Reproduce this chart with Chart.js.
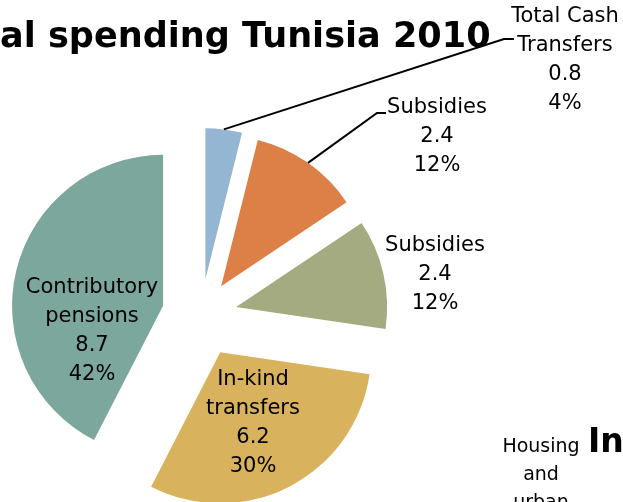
<!DOCTYPE html>
<html>
<head>
<meta charset="utf-8">
<title>Social spending Tunisia 2010</title>
<script src="https://cdn.jsdelivr.net/npm/chart.js@4"></script>
<style>
  html, body { margin: 0; padding: 0; background: #fff; overflow: hidden; }
  canvas { display: block; }
</style>
</head>
<body>
<canvas id="spendingChart" width="623" height="502"></canvas>
<script>
// Social spending by programme, Tunisia 2010
const categories = [
    ['Total Cash', 'Transfers'],
    ['Subsidies'],
    ['Subsidies'],
    ['In-kind', 'transfers'],
    ['Contributory', 'pensions']
];
const spending = [0.8, 2.4, 2.4, 6.2, 8.7];
const sliceColors = ['#94B6D2', '#DD8047', '#A5AB81', '#D8B25C', '#7BA79D'];

// how far each slice is pulled out of the pie (px)
const explode = [36, 35, 36, 42, 39];

// label blocks: centre of first line, optional leader elbow
const labelLayout = [
    { x: 565, y: 17, leader: [[504, 39], [514, 39]] },
    { x: 437, y: 108, leader: [[377, 113], [386, 113]] },
    { x: 435, y: 246 },
    { x: 253, y: 380 },
    { x: 92, y: 288 }
];

const LINE_H = 29;
const LABEL_FONT = '21px "DejaVu Sans", sans-serif';
const TITLE = 'Social spending Tunisia 2010';
const TITLE_FONT = '"DejaVu Sans", sans-serif';

const total = spending.reduce((a, b) => a + b, 0);

// push slices outwards along their mid angle
const explodePlugin = {
    id: 'explode',
    afterDatasetsUpdate(chart) {
        chart.getDatasetMeta(0).data.forEach((arc, i) => {
            const mid = (arc.startAngle + arc.endAngle) / 2;
            arc.x += Math.cos(mid) * explode[i];
            arc.y += Math.sin(mid) * explode[i];
        });
    }
};

const textPlugin = {
    id: 'texts',
    afterDraw(chart) {
        const ctx = chart.ctx;
        const arcs = chart.getDatasetMeta(0).data;
        ctx.save();

        // title, the start of it runs off the left edge
        const visible = TITLE.slice(4);
        ctx.font = `bold 36px ${TITLE_FONT}`;
        const size = 36 * 491 / ctx.measureText(visible).width;
        ctx.font = `bold ${size.toFixed(1)}px ${TITLE_FONT}`;
        ctx.fillStyle = '#000';
        ctx.textAlign = 'left';
        ctx.textBaseline = 'alphabetic';
        ctx.fillText(TITLE, -ctx.measureText(TITLE.slice(0, 4)).width, 47);

        // leader lines
        ctx.strokeStyle = '#000';
        ctx.lineWidth = 2;
        labelLayout.forEach((lab, i) => {
            if (!lab.leader) return;
            const arc = arcs[i];
            const mid = (arc.startAngle + arc.endAngle) / 2;
            ctx.beginPath();
            ctx.moveTo(arc.x + Math.cos(mid) * arc.outerRadius, arc.y + Math.sin(mid) * arc.outerRadius);
            lab.leader.forEach(p => ctx.lineTo(p[0], p[1]));
            ctx.stroke();
        });

        // slice labels: name, value, share
        ctx.font = LABEL_FONT;
        ctx.textAlign = 'center';
        ctx.textBaseline = 'middle';
        labelLayout.forEach((lab, i) => {
            const lines = [...categories[i], spending[i].toFixed(1), Math.round(spending[i] / total * 100) + '%'];
            lines.forEach((t, k) => ctx.fillText(t, lab.x, lab.y + k * LINE_H));
        });

        // neighbouring panel text
        ctx.font = '19px "DejaVu Sans", sans-serif';
        ctx.textBaseline = 'alphabetic';
        ['Housing', 'and', 'urban'].forEach((t, k) => ctx.fillText(t, 541, 452 + k * 28));
        ctx.font = `bold 33px ${TITLE_FONT}`;
        ctx.textAlign = 'left';
        ctx.fillText('In', 588, 452);

        ctx.restore();
    }
};

new Chart(document.getElementById('spendingChart'), {
    type: 'pie',
    data: {
        labels: categories.map(c => c.join(' ')),
        datasets: [{
            data: spending,
            backgroundColor: sliceColors,
            borderWidth: 0
        }]
    },
    options: {
        responsive: false,
        animation: false,
        radius: 151,
        clip: false,
        layout: { padding: { left: 0, right: 221, top: 128, bottom: 0 } },
        plugins: {
            legend: { display: false },
            tooltip: { enabled: false }
        }
    },
    plugins: [explodePlugin, textPlugin]
});
</script>
</body>
</html>
